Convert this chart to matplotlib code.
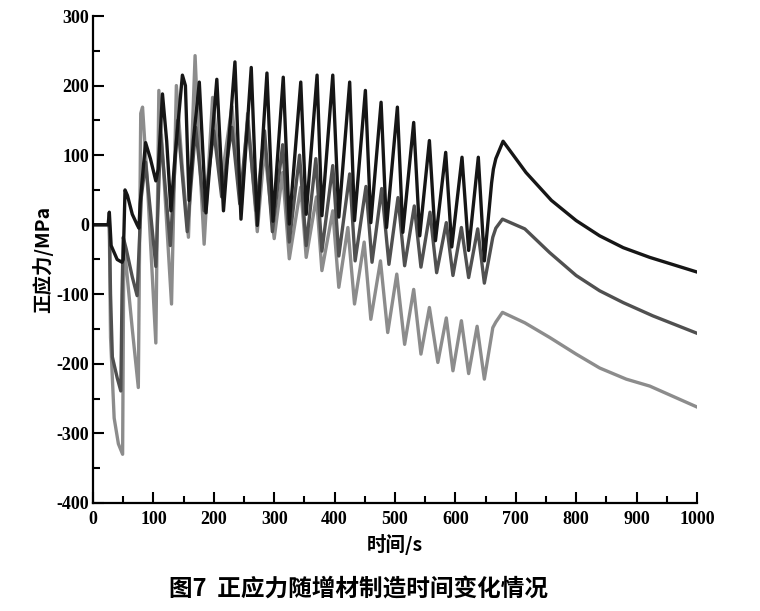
import matplotlib
matplotlib.use('Agg')
import matplotlib.pyplot as plt
from matplotlib.ticker import MultipleLocator

plt.rcParams['axes.unicode_minus'] = False

# time (s) / normal stress (MPa)
t_black = [0, 25, 27, 30, 40, 48, 50, 53, 57, 65, 73, 76, 78, 82, 87, 95, 104, 108, 115, 122, 129,
           135, 148, 153, 159, 166, 176, 187, 205, 216, 235, 245, 262, 272, 288, 298, 315, 325,
           344, 353, 371, 379, 397, 407, 425, 433, 451, 460, 477, 486, 504, 513, 531, 541, 557,
           567, 584, 594, 611, 622, 638, 648, 660, 663, 667, 679, 717, 759, 800, 839, 878, 922, 1000]
s_black = [0, 0, 18, -30, -50, -54, -50, 50, 42, 15, 0, -5, 30, 70, 118, 95, 63, 80, 188, 120, 20,
           90, 215, 200, 35, 120, 205, 17, 209, 20, 234, 8, 226, -1, 218, 5, 212, 1,
           205, 15, 215, 13, 215, 11, 205, 6, 193, 3, 176, -4, 169, -11, 147, -16, 121,
           -23, 104, -32, 97, -37, 97, -52, 60, 80, 95, 120, 75, 35, 6, -16, -33, -47, -68]

t_dark = [0, 25, 27, 29, 32, 40, 46, 48, 50, 55, 65, 73, 75, 80, 87, 104, 112, 128, 140, 156,
          170, 184, 200, 213, 230, 243, 256, 270, 284, 297, 314, 325, 342, 353, 369, 379, 397,
          407, 425, 434, 452, 462, 478, 490, 505, 516, 532, 543, 558, 569, 585, 596, 610, 622,
          637, 648, 662, 667, 678, 715, 756, 800, 839, 878, 927, 1000]
s_dark = [0, 0, 5, -100, -190, -220, -239, -100, -18, -35, -75, -102, -60, 40, 90, -60, 130, -30,
          150, -10, 140, 20, 135, 40, 140, 30, 150, 20, 135, -10, 115, -25, 100, -30, 95, -38, 85,
          -45, 73, -52, 55, -54, 52, -57, 39, -59, 27, -61, 18, -69, 3, -73, -4, -76,
          -6, -84, -18, -5, 8, -6, -40, -73, -95, -112, -131, -156]

t_light = [0, 25, 27, 29, 35, 42, 49, 51, 55, 65, 75, 79, 82, 90, 104, 109, 118, 130, 138, 148,
           158, 163, 169, 176, 184, 198, 212, 230, 245, 256, 272, 284, 300, 314, 325, 344, 353,
           370, 379, 397, 407, 422, 433, 449, 460, 476, 488, 503, 516, 531, 543, 557, 571, 585,
           596, 610, 622, 636, 648, 662, 667, 678, 715, 756, 800, 839, 883, 922, 1000]
s_light = [0, 0, -5, -162, -278, -315, -330, -27, -60, -150, -234, 160, 169, 60, -170, 193, 60,
           -114, 200, 80, -18, 100, 243, 100, -28, 183, 60, 170, 20, 160, -10, 110, -20, 75, -49,
           54, -47, 40, -66, 20, -90, -4, -114, -25, -136, -52, -155, -71, -172, -93, -186, -119,
           -198, -134, -210, -138, -214, -146, -222, -148, -140, -126, -141, -162, -186, -206,
           -222, -232, -262]

x_ticks = [0, 100, 200, 300, 400, 500, 600, 700, 800, 900, 1000]
y_ticks = [-400, -300, -200, -100, 0, 100, 200, 300]

fig = plt.figure(figsize=(7.6, 6.11), dpi=100)
ax = fig.add_axes([0.1224, 0.1768, 0.7946, 0.797])

ax.plot(t_light, s_light, color='#8c8c8c', lw=2.4, solid_joinstyle='round')
ax.plot(t_dark, s_dark, color='#505050', lw=2.4, solid_joinstyle='round')
ax.plot(t_black, s_black, color='#161616', lw=2.4, solid_joinstyle='round')

ax.set_xlim(0, 1000)
ax.set_ylim(-400, 300)
ax.set_xticks(x_ticks)
ax.set_yticks(y_ticks)
ax.xaxis.set_minor_locator(MultipleLocator(50))
ax.yaxis.set_minor_locator(MultipleLocator(50))
ax.tick_params(which='major', direction='in', length=8, width=1.5)
ax.tick_params(which='minor', direction='in', length=5, width=1.5)
ax.tick_params(axis='y', which='both', right=False)
ax.tick_params(axis='x', which='both', top=False)
for lab in ax.get_xticklabels() + ax.get_yticklabels():
    lab.set_family('Liberation Serif')
    lab.set_fontsize(13)
    lab.set_fontweight('bold')
ax.tick_params(axis='x', pad=6)
ax.tick_params(axis='y', pad=3)

ax.spines['top'].set_visible(False)
ax.spines['right'].set_visible(False)
ax.spines['left'].set_linewidth(1.6)
ax.spines['bottom'].set_linewidth(1.6)

cjk = ['Noto Sans CJK SC', 'DejaVu Sans']
ax.set_xlabel('时间/s', family=cjk, fontsize=14, fontweight='bold', labelpad=4)
ax.set_ylabel('正应力/MPa', family=cjk, fontsize=14, fontweight='bold', labelpad=2)

fig.text(0.472, 0.035, '图7  正应力随增材制造时间变化情况', family=cjk, fontsize=17,
         fontweight='bold', ha='center', va='center')

fig.savefig('out.png', dpi=100)
